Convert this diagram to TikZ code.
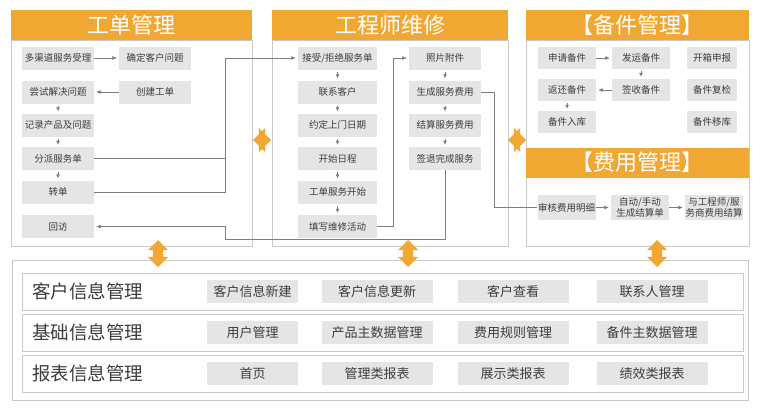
\documentclass[tikz,border=0pt]{standalone}
\usepackage{fontspec}
\setmainfont{Noto Sans CJK SC}
\usetikzlibrary{arrows.meta}
\usetikzlibrary{shapes.arrows}
\definecolor{orng}{RGB}{240,168,50}
\definecolor{boxg}{RGB}{229,229,229}
\definecolor{txtg}{RGB}{60,60,60}
\definecolor{lineg}{RGB}{125,125,125}
\definecolor{frameg}{RGB}{200,200,200}
\tikzset{
  hd/.style={fill=orng,text=white,inner sep=0pt,minimum height=30pt,font=\fontsize{22}{24}\selectfont},
  pn/.style={draw=frameg,line width=0.8pt},
  bx/.style={fill=boxg,text=txtg,inner sep=0pt,minimum height=23pt,font=\fontsize{9.5}{10}\selectfont},
  bx2/.style={bx,minimum width=58pt,minimum height=25pt,align=center,font=\fontsize{9.5}{10.5}\selectfont},
  ln/.style={draw=lineg,line width=0.6pt},
  ar/.style={ln,-{Latex[length=4.5pt,width=4pt]},shorten >=2pt},
  dn/.style={ln,-{Latex[length=4pt,width=4pt]},shorten <=2pt,shorten >=2pt},
  rw/.style={draw=frameg,line width=0.8pt,minimum width=721pt,minimum height=37pt,inner sep=0pt},
  ti/.style={text=txtg,inner sep=0pt,anchor=west,font=\fontsize{18.5}{20}\selectfont},
  it/.style={fill=boxg,text=txtg,inner sep=0pt,minimum height=23pt,minimum width=111pt,font=\fontsize{13}{14}\selectfont},
  obh/.style={double arrow,fill=orng,inner xsep=0pt,inner ysep=6pt,minimum height=18pt,minimum width=24pt,double arrow head extend=6pt},
  obv/.style={obh,rotate=90,inner ysep=5pt,minimum height=27pt,minimum width=20pt,double arrow head extend=5pt}
}
\begin{document}
\begin{tikzpicture}[x=1pt,y=-1pt]
  \useasboundingbox (0,0) rectangle (762,410);
  \draw[pn] (11,40) rectangle (252,246);
  \draw[pn] (272,40) rectangle (508,246);
  \draw[pn] (526,40) rectangle (749,246);
  \draw[pn] (12,260) rectangle (748,400);
  \node[hd,minimum width=241pt] (h1) at (131.5,25) {工单管理};
  \node[hd,minimum width=236pt] (h2) at (390,25) {工程师维修};
  \node[hd,minimum width=223pt] (h3) at (637.5,25) {【备件管理】};
  \node[hd,minimum width=223pt] (h4) at (637.5,162.5) {【费用管理】};

  \node[bx,minimum width=72pt] (dq) at (58,58) {多渠道服务受理};
  \node[bx,minimum width=72pt] (qd) at (155,58) {确定客户问题};
  \node[bx,minimum width=72pt] (cs) at (58,92) {尝试解决问题};
  \node[bx,minimum width=72pt] (cj) at (155,92) {创建工单};
  \node[bx,minimum width=72pt] (jl) at (58,125) {记录产品及问题};
  \node[bx,minimum width=72pt] (fp) at (58,158.5) {分派服务单};
  \node[bx,minimum width=72pt] (zd) at (58,192) {转单};
  \node[bx,minimum width=72pt] (hf) at (58,226.5) {回访};
  \draw[ar] (dq) -- (qd);
  \draw[ar] (cj) -- (cs);
  \draw[dn] (cs) -- (jl);
  \draw[dn] (jl) -- (fp);
  \draw[dn] (fp) -- (zd);

  \node[bx,minimum width=79pt] (js) at (337.5,58) {接受/拒绝服务单};
  \node[bx,minimum width=79pt] (lx) at (337.5,92) {联系客户};
  \node[bx,minimum width=79pt] (yd) at (337.5,125) {约定上门日期};
  \node[bx,minimum width=79pt] (kr) at (337.5,158.5) {开始日程};
  \node[bx,minimum width=79pt] (gk) at (337.5,192) {工单服务开始};
  \node[bx,minimum width=79pt] (tw) at (337.5,226.5) {填写维修活动};
  \node[bx,minimum width=72pt] (zp) at (445,58) {照片附件};
  \node[bx,minimum width=72pt] (sc) at (445,92) {生成服务费用};
  \node[bx,minimum width=72pt] (jf) at (445,125) {结算服务费用};
  \node[bx,minimum width=72pt] (qt) at (445,158.5) {签退完成服务};
  \draw[dn] (js) -- (lx);
  \draw[dn] (lx) -- (yd);
  \draw[dn] (yd) -- (kr);
  \draw[dn] (kr) -- (gk);
  \draw[dn] (gk) -- (tw);
  \draw[dn] (zp) -- (sc);
  \draw[dn] (sc) -- (jf);
  \draw[dn] (jf) -- (qt);

  \node[bx,minimum width=58pt,minimum height=22pt] (sq) at (567,58) {申请备件};
  \node[bx,minimum width=58pt,minimum height=22pt] (fy) at (641,58) {发运备件};
  \node[bx,minimum width=50pt,minimum height=22pt] (kx) at (712,58) {开箱申报};
  \node[bx,minimum width=58pt,minimum height=22pt] (fh) at (567,90) {返还备件};
  \node[bx,minimum width=58pt,minimum height=22pt] (ss) at (641,90) {签收备件};
  \node[bx,minimum width=50pt,minimum height=22pt] (fj) at (712,90) {备件复检};
  \node[bx,minimum width=58pt,minimum height=22pt] (rk) at (567,122) {备件入库};
  \node[bx,minimum width=50pt,minimum height=22pt] (yk) at (712,122) {备件移库};
  \draw[ar] (sq) -- (fy);
  \draw[dn] (fy) -- (ss);
  \draw[ar] (ss) -- (fh);
  \draw[dn] (fh) -- (rk);
  \node[bx2] (sh) at (566.5,207.5) {审核费用明细};
  \node[bx2] (zs) at (640,207.5) {自动/手动\\生成结算单};
  \node[bx2] (yg) at (714,207.5) {与工程师/服\\务商费用结算};
  \draw[ar] (sh) -- (zs);
  \draw[ar] (zs) -- (yg);

  % links between the panels
  \coordinate (jc) at (225,0);
  \coordinate (tc) at (393,0);
  \coordinate (sx) at (494.5,0);
  \coordinate (rt) at (225,239);
  \draw[ln] (fp.east) -- (fp.east -| jc);
  \draw[ar] (zd.east) -- (zd.east -| jc) |- (js.west);
  \draw[ar] (qt.south) |- (rt) |- (hf.east);
  \draw[ar] (tw.east) -- (tw.east -| tc) |- (zp.west);
  \draw[ln] (sc.east) -- (sc.east -| sx) |- (sh.west);

  \node[rw] (r1) at (382.5,291.5) {};
  \node[rw] (r2) at (382.5,332.5) {};
  \node[rw] (r3) at (382.5,373.5) {};
  \node[ti] at (32,291.5) {客户信息管理};
  \node[ti] at (32,332.5) {基础信息管理};
  \node[ti] at (32,373.5) {报表信息管理};
  \node[it,minimum width=91pt] (a1) at (252.5,291.5) {客户信息新建};
  \node[it] (a2) at (377,291.5) {客户信息更新};
  \node[it] (a3) at (513,291.5) {客户查看};
  \node[it] (a4) at (652,291.5) {联系人管理};
  \node[it,minimum width=91pt] (b1) at (252.5,332.5) {用户管理};
  \node[it] (b2) at (377,332.5) {产品主数据管理};
  \node[it] (b3) at (513,332.5) {费用规则管理};
  \node[it] (b4) at (652,332.5) {备件主数据管理};
  \node[it,minimum width=91pt] (c1) at (252.5,373.5) {首页};
  \node[it] (c2) at (377,373.5) {管理类报表};
  \node[it] (c3) at (513,373.5) {展示类报表};
  \node[it] (c4) at (652,373.5) {绩效类报表};

  \node[obh] (o1) at (262,140) {};
  \node[obh] (o2) at (517,140) {};
  \node[obv] (o3) at (158,253.5) {};
  \node[obv] (o4) at (408,253.5) {};
  \node[obv] (o5) at (657,253.5) {};
\end{tikzpicture}
\end{document}
